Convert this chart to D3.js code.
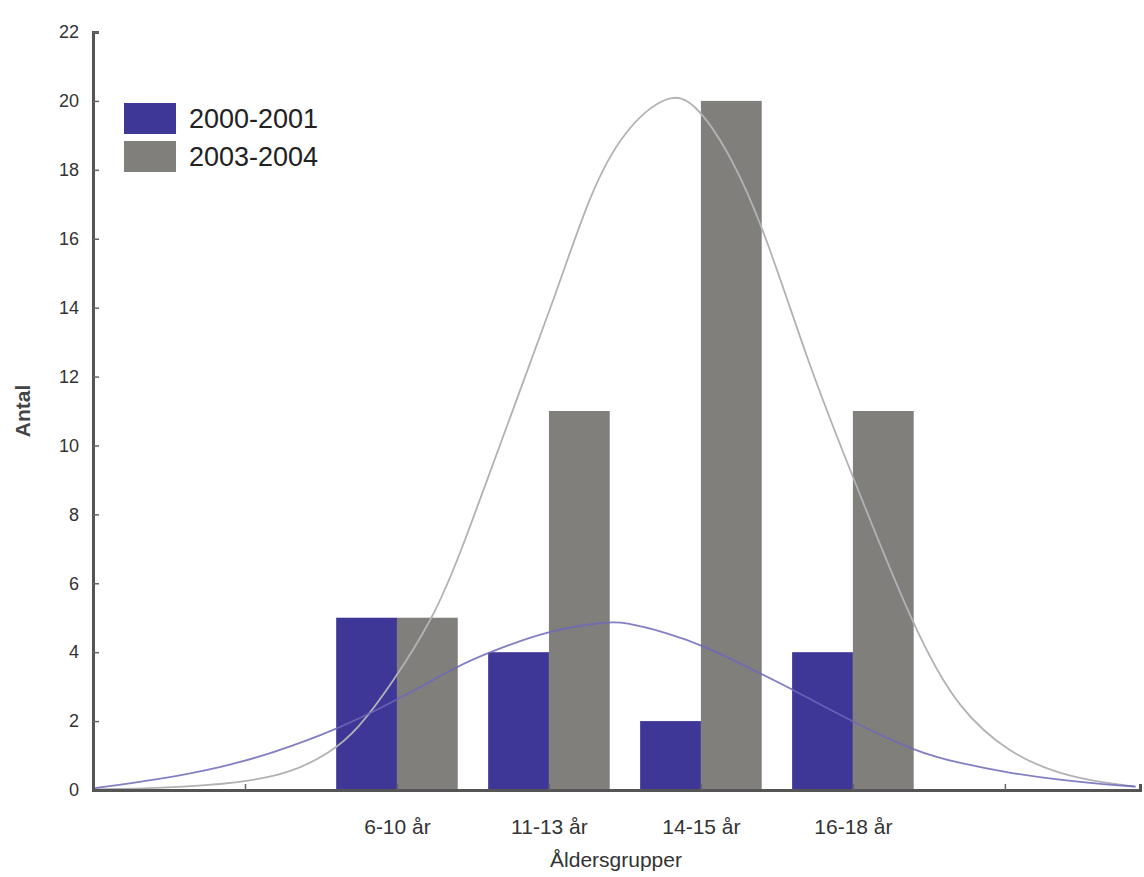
<!DOCTYPE html>
<html>
<head>
<meta charset="utf-8">
<script src="https://cdn.jsdelivr.net/npm/d3@7"></script>
<style>
  html, body { margin: 0; padding: 0; background: #ffffff; }
  svg { display: block; }
  text { font-family: "Liberation Sans", Arial, sans-serif; fill: #333; }
</style>
</head>
<body>
<svg id="chart" width="1144" height="877"></svg>
<script>
// ---- data ----
const categories = ["6-10 år", "11-13 år", "14-15 år", "16-18 år"];
const categoryPos = [2, 3, 4, 5];
const series2000 = [5, 4, 2, 4];
const series2003 = [5, 11, 20, 11];
const seriesNames = ["2000-2001", "2003-2004"];
const yTicks = [0, 2, 4, 6, 8, 10, 12, 14, 16, 18, 20, 22];
const xTicks = [1, 2, 3, 4, 5, 6];
// fitted curves: [x position, value]
const curve2000 = [[0, 0.05], [0.42, 0.29], [0.86, 0.67], [1.18, 1.07], [1.6, 1.74],
  [2.02, 2.65], [2.41, 3.63], [2.61, 4.0], [3.0, 4.64], [3.38, 4.88], [3.49, 4.88], [3.78, 4.56],
  [4.01, 4.21], [4.41, 3.34], [4.61, 2.9], [5.01, 1.95], [5.42, 1.10], [5.7, 0.78], [6.03, 0.49],
  [6.36, 0.29], [6.69, 0.15], [6.86, 0.1]];
const curve2003 = [[0, 0.02], [0.44, 0.05], [0.97, 0.2], [1.3, 0.49], [1.56, 1.07], [1.74, 1.74],
  [1.97, 3.1], [2.24, 5.0], [2.41, 6.76], [2.72, 10.54], [3.05, 14.43], [3.27, 17.33], [3.49, 19.16],
  [3.78, 20.23], [3.95, 20.03], [4.19, 18.5], [4.41, 16.34], [4.7, 12.48], [4.91, 10.07],
  [5.42, 4.44], [5.7, 2.32], [6.03, 1.06], [6.36, 0.45], [6.69, 0.18], [6.86, 0.1]];

// ---- layout ----
const svg = d3.select("#chart");
const mLeft = 93, mRight = 1140, mTop = 32, mBottom = 790;
const x = d3.scaleLinear().domain([0, 6.889]).range([mLeft, mRight]);
const y = d3.scaleLinear().domain([0, 22]).range([mBottom, mTop]);
const barW = 0.4;
const blue = "#3e3797", gray = "#817f7b";

// bars
const g = svg.append("g");
g.selectAll("rect.b1").data(series2000).join("rect")
  .attr("x", (d, i) => x(categoryPos[i] - barW))
  .attr("width", (d, i) => x(categoryPos[i]) - x(categoryPos[i] - barW))
  .attr("y", d => y(d)).attr("height", d => y(0) - y(d))
  .attr("fill", blue);
g.selectAll("rect.b2").data(series2003).join("rect")
  .attr("x", (d, i) => x(categoryPos[i]))
  .attr("width", (d, i) => x(categoryPos[i] + barW) - x(categoryPos[i]))
  .attr("y", d => y(d)).attr("height", d => y(0) - y(d))
  .attr("fill", gray);

// curves
const line = d3.line().x(d => x(d[0])).y(d => y(d[1])).curve(d3.curveBasis);
svg.append("path").datum(curve2003).attr("d", line)
  .attr("fill", "none").attr("stroke", "#b2b2b6").attr("stroke-width", 1.8);
svg.append("path").datum(curve2000).attr("d", line)
  .attr("fill", "none").attr("stroke", "#6d68b8").attr("stroke-width", 1.8).attr("stroke-opacity", 0.85);

// y axis
const yAxis = d3.axisLeft(y).tickValues(yTicks).tickSize(-6).tickPadding(14);
const ya = svg.append("g").attr("transform", `translate(${mLeft},0)`).call(yAxis);
ya.select(".domain").attr("stroke", "#555").attr("stroke-width", 3);
ya.selectAll(".tick line").attr("stroke", "#666").attr("stroke-width", 1.5);
ya.selectAll(".tick text").style("font-size", "18px").style("fill", "#333")
  .style("font-family", "'Liberation Sans', Arial, sans-serif");

// x axis
const xAxis = d3.axisBottom(x).tickValues(xTicks).tickSize(-6)
  .tickFormat(v => { const i = categoryPos.indexOf(v); return i >= 0 ? categories[i] : ""; })
  .tickPadding(29);
const xa = svg.append("g").attr("transform", `translate(0,${mBottom})`).call(xAxis);
xa.select(".domain").attr("stroke", "#555").attr("stroke-width", 3);
xa.selectAll(".tick line").attr("stroke", "#666").attr("stroke-width", 1.5);
xa.selectAll(".tick text").style("font-size", "21px").style("fill", "#333")
  .style("font-family", "'Liberation Sans', Arial, sans-serif");

// axis titles
svg.append("text").attr("x", 616).attr("y", 867).attr("text-anchor", "middle")
  .style("font-size", "21px").text("Åldersgrupper");
svg.append("text").attr("transform", "translate(30,411) rotate(-90)").attr("text-anchor", "middle")
  .style("font-size", "21px").style("font-weight", "bold").style("fill", "#444").text("Antal");

// legend
const leg = svg.append("g");
[blue, gray].forEach((c, i) => {
  leg.append("rect").attr("x", 124).attr("y", 103 + i * 38).attr("width", 52).attr("height", 31).attr("fill", c);
  leg.append("text").attr("x", 189).attr("y", 119 + i * 38).attr("dy", "0.35em")
    .style("font-size", "27px").style("fill", "#222").text(seriesNames[i]);
});
</script>
</body>
</html>
